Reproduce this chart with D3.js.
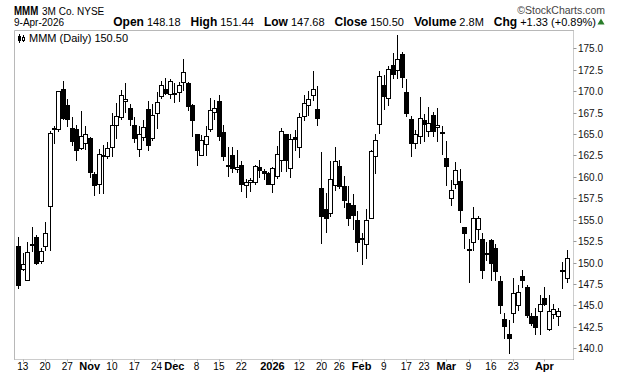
<!DOCTYPE html>
<html><head><meta charset="utf-8">
<script src="https://cdn.jsdelivr.net/npm/d3@7/dist/d3.min.js"></script>
<style>
html,body{margin:0;padding:0;background:#fff;}
svg{display:block;font-family:"Liberation Sans",Arial,sans-serif;}
</style></head>
<body>
<svg id="c" width="620" height="376"></svg>
<script>
const dates = [
"2025-10-10",
"2025-10-13","2025-10-14","2025-10-15","2025-10-16","2025-10-17",
"2025-10-20","2025-10-21","2025-10-22","2025-10-23","2025-10-24",
"2025-10-27","2025-10-28","2025-10-29","2025-10-30","2025-10-31",
"2025-11-03","2025-11-04","2025-11-05","2025-11-06","2025-11-07",
"2025-11-10","2025-11-11","2025-11-12","2025-11-13","2025-11-14",
"2025-11-17","2025-11-18","2025-11-19","2025-11-20","2025-11-21",
"2025-11-24","2025-11-25","2025-11-26","2025-11-28",
"2025-12-01","2025-12-02","2025-12-03","2025-12-04","2025-12-05",
"2025-12-08","2025-12-09","2025-12-10","2025-12-11","2025-12-12",
"2025-12-15","2025-12-16","2025-12-17","2025-12-18","2025-12-19",
"2025-12-22","2025-12-23","2025-12-24","2025-12-26",
"2025-12-29","2025-12-30","2025-12-31","2026-01-02",
"2026-01-05","2026-01-06","2026-01-07","2026-01-08","2026-01-09",
"2026-01-12","2026-01-13","2026-01-14","2026-01-15","2026-01-16",
"2026-01-20","2026-01-21","2026-01-22","2026-01-23",
"2026-01-26","2026-01-27","2026-01-28","2026-01-29","2026-01-30",
"2026-02-02","2026-02-03","2026-02-04","2026-02-05","2026-02-06",
"2026-02-09","2026-02-10","2026-02-11","2026-02-12","2026-02-13",
"2026-02-17","2026-02-18","2026-02-19","2026-02-20",
"2026-02-23","2026-02-24","2026-02-25","2026-02-26","2026-02-27",
"2026-03-02","2026-03-03","2026-03-04","2026-03-05","2026-03-06",
"2026-03-09","2026-03-10","2026-03-11","2026-03-12","2026-03-13",
"2026-03-16","2026-03-17","2026-03-18","2026-03-19","2026-03-20",
"2026-03-23","2026-03-24","2026-03-25","2026-03-26","2026-03-27",
"2026-03-30","2026-03-31","2026-04-01","2026-04-02",
"2026-04-06","2026-04-07","2026-04-08","2026-04-09"
];
const opens = [
151.9,149.3,148.0,152.2,153.0,150.2,151.9,156.6,165.6,165.6,
170.3,168.4,165.7,165.6,163.4,163.9,164.5,160.3,159.2,162.6,
162.4,163.5,166.1,167.0,168.8,168.0,166.1,163.2,164.7,167.9,
164.5,167.4,169.4,170.2,169.7,169.8,169.9,171.1,171.0,168.4,
165.0,162.6,163.8,165.6,167.6,168.8,165.2,161.35,162.5,160.9,
161.4,159.1,159.4,159.4,161.1,160.7,160.5,159.2,160.1,162.0,
165.0,161.0,164.6,163.5,167.1,168.4,169.6,167.9,158.7,156.3,
155.75,159.1,161.3,158.9,157.0,156.7,155.0,152.85,152.2,155.2,
162.4,166.2,170.7,169.2,173.1,172.5,174.3,169.9,166.8,164.0,
164.8,166.6,165.4,167.2,165.8,165.25,162.2,157.5,159.2,159.5,
154.1,151.55,152.4,153.9,152.8,151.15,152.6,151.7,147.9,143.4,
141.7,144.1,145.0,148.4,147.2,143.8,143.8,144.4,145.9,142.3,
144.0,143.8,149.15,148.18
];
const highs = [
153.0,151.1,152.4,154.2,153.2,151.7,154.7,165.3,165.9,170.0,
171.2,169.1,167.0,166.1,167.7,165.9,164.7,160.6,163.3,163.7,
164.1,167.5,168.6,170.1,171.0,168.5,167.0,165.9,166.6,168.9,
168.5,169.9,171.2,171.5,171.4,171.0,171.1,173.7,171.1,168.5,
165.0,164.9,165.9,169.2,169.0,169.6,166.1,163.5,163.5,163.1,
161.9,159.8,159.9,161.4,162.0,160.9,160.6,161.2,163.6,165.7,
165.0,165.0,165.5,167.4,169.6,170.0,172.3,170.6,162.9,158.1,
161.8,163.5,162.0,160.1,158.9,158.0,156.0,153.4,156.3,163.1,
165.0,172.3,171.9,172.9,174.4,176.6,174.6,171.4,167.1,165.5,
169.3,167.3,168.1,167.6,168.0,165.9,164.2,159.6,161.7,160.9,
154.2,152.8,156.5,155.4,153.4,152.4,152.8,152.2,148.4,144.1,
143.3,148.2,147.4,149.1,147.4,144.1,144.7,146.2,147.2,146.2,
145.2,144.7,150.1,151.44
];
const lows = [
147.0,149.1,148.0,151.3,149.8,149.9,151.5,151.5,163.9,165.3,
166.7,165.9,163.7,162.0,163.2,163.3,160.0,157.9,158.1,158.1,
162.2,162.4,164.5,166.8,167.6,166.1,164.1,162.4,164.3,163.1,
164.3,165.7,169.2,169.7,169.2,168.7,168.8,170.1,167.8,164.8,
161.4,162.5,162.6,165.3,166.8,164.3,162.0,160.1,160.6,160.6,
158.3,157.6,158.3,159.2,160.0,159.8,159.2,158.2,159.9,160.7,
160.7,160.0,163.1,162.3,166.6,167.2,169.0,166.1,152.3,153.6,
155.4,158.5,158.7,156.5,154.4,153.9,151.3,149.8,150.5,155.2,
160.4,165.1,167.9,168.4,171.5,171.5,170.5,167.1,162.4,163.4,
164.0,164.2,164.8,164.8,164.2,162.7,159.1,156.7,158.7,154.7,
151.7,147.7,151.5,152.8,148.2,150.3,148.0,148.0,144.1,141.2,
139.4,143.1,144.5,147.2,143.7,142.7,141.7,141.7,145.1,142.1,
143.5,142.7,147.0,147.68
];
const closes = [
147.4,149.8,151.2,152.1,150.0,151.3,153.4,165.1,165.7,170.0,
166.9,166.8,164.2,163.1,164.8,165.0,160.6,159.1,162.7,162.4,
163.4,166.1,167.1,169.6,169.1,166.7,164.5,165.0,165.8,163.7,
167.2,168.7,170.7,169.8,171.2,169.7,170.7,172.2,168.3,166.6,
163.1,164.3,164.8,167.8,168.0,164.8,162.4,161.25,161.0,161.2,
159.2,159.4,159.6,161.3,160.8,160.4,159.2,161.0,162.7,165.3,
162.0,164.4,164.4,167.0,168.6,169.1,170.3,166.9,155.4,155.2,
159.8,161.8,158.9,157.3,155.2,155.6,152.4,152.7,155.0,163.0,
164.3,171.8,169.4,172.6,172.0,173.7,171.7,167.5,164.0,165.0,
166.9,166.2,166.3,165.4,166.0,165.15,161.3,158.5,160.8,156.1,
153.4,151.45,155.2,155.2,149.1,151.05,149.9,149.0,145.0,142.6,
141.2,146.5,146.6,148.0,143.9,143.0,142.5,145.2,145.2,144.4,
144.6,144.4,149.17,150.50
];
const yTickValues = [140,142.5,145,147.5,150,152.5,155,157.5,160,162.5,165,167.5,170,172.5,175];
const xTickDates = ["2025-10-13","2025-10-20","2025-10-27","2025-11-03","2025-11-10","2025-11-17","2025-11-24",
"2025-12-01","2025-12-08","2025-12-15","2025-12-22","2026-01-02","2026-01-12","2026-01-20","2026-01-26",
"2026-02-02","2026-02-09","2026-02-17","2026-02-23","2026-03-02","2026-03-09","2026-03-16","2026-03-23","2026-04-01"];
const xTickLabels = ["13","20","27","Nov","10","17","24","Dec","8","15","22","2026","12","20","26","Feb","9","17","23","Mar","9","16","23","Apr"];
const symbol = "MMM", company = "3M Co.", exchange = "NYSE", asOf = "9-Apr-2026";
const summary = [["Open","148.18"],["High","151.44"],["Low","147.68"],["Close","150.50"],["Volume","2.8M"],["Chg","+1.33 (+0.89%)"]];

const svg = d3.select("#c");
const L = 14.5, R = 573.5, T = 30.5, B = 359.5;

const x = d3.scalePoint().domain(dates).range([18.3, 566.7]);
const y = d3.scaleLinear().domain([140, 175]).range([348.3, 48.3]);

// header
svg.append("text").attr("transform", "translate(14,15) scale(0.72,1)")
  .attr("font-weight", "bold").attr("font-size", 13.5).text(symbol);
svg.append("text").attr("x", 42).attr("y", 15).attr("font-size", 10).text(company + " " + exchange);
svg.append("text").attr("x", 605).attr("y", 14).attr("text-anchor", "end").attr("font-size", 10.5).attr("fill", "#444").text("\u00A9StockCharts.com");
svg.append("text").attr("x", 14).attr("y", 26).attr("font-size", 10).text(asOf);
const sumText = svg.append("text").attr("x", 596).attr("y", 26).attr("text-anchor", "end");
summary.forEach((kv, i) => {
  sumText.append("tspan").attr("font-weight", "bold").attr("font-size", 12).attr("dx", i ? 10 : 0).text(kv[0]);
  sumText.append("tspan").attr("font-size", 11).attr("dx", 3).text(kv[1]);
});
svg.append("path").attr("d", d3.symbol(d3.symbolTriangle, 22)()).attr("transform", "translate(601,22.5)").attr("fill", "#2a7d2a");

// frame
svg.append("line").attr("x1", L).attr("x2", R).attr("y1", T).attr("y2", T).attr("stroke", "#b8b8b8");
svg.append("line").attr("x1", L).attr("x2", L).attr("y1", T).attr("y2", B).attr("stroke", "#b8b8b8");
svg.append("line").attr("x1", R).attr("x2", R).attr("y1", T).attr("y2", B).attr("stroke", "#999").attr("stroke-dasharray", "1,1");
svg.append("line").attr("x1", L).attr("x2", R).attr("y1", B).attr("y2", B).attr("stroke", "#999").attr("stroke-dasharray", "1,1");

// y axis
const yg = svg.append("g");
yTickValues.forEach(v => {
  const yy = Math.round(y(v)) + 0.5;
  yg.append("line").attr("x1", R).attr("x2", R + 3).attr("y1", yy).attr("y2", yy).attr("stroke", "#999");
  yg.append("text").attr("x", R + 4.5).attr("y", yy + 3.5).attr("font-size", 10).attr("fill", "#111").text(d3.format(".1f")(v));
});

// x axis labels
xTickDates.forEach((d, i) => {
  const lab = xTickLabels[i];
  const bold = isNaN(+lab) || lab.length === 4;
  const xx = x(d);
  svg.append("line").attr("x1", Math.round(xx) + 0.5).attr("x2", Math.round(xx) + 0.5).attr("y1", B).attr("y2", B + 2).attr("stroke", "#aaa");
  svg.append("text").attr("x", xx).attr("y", 370).attr("text-anchor", "middle")
    .attr("font-size", bold ? 11 : 10).attr("font-weight", bold ? "bold" : "normal").text(lab);
});

// legend
const lg = svg.append("g").attr("transform", "translate(18,34)");
lg.append("line").attr("x1", 1.5).attr("x2", 1.5).attr("y1", 0).attr("y2", 9).attr("stroke", "#000");
lg.append("rect").attr("x", 0.5).attr("y", 2.5).attr("width", 2).attr("height", 4).attr("fill", "#000").attr("stroke", "#000");
lg.append("line").attr("x1", 5.5).attr("x2", 5.5).attr("y1", 1).attr("y2", 8).attr("stroke", "#000");
lg.append("rect").attr("x", 4.5).attr("y", 3.5).attr("width", 2).attr("height", 3).attr("fill", "#fff").attr("stroke", "#000");
svg.append("text").attr("x", 29).attr("y", 42).attr("font-size", 11).text(symbol + " (Daily) " + d3.format(".2f")(closes[closes.length - 1]));

// candles
const data = dates.map((d, i) => ({d, o: opens[i], h: highs[i], l: lows[i], c: closes[i]}));
const cg = svg.append("g").attr("shape-rendering", "crispEdges");
data.forEach(p => {
  const cx = Math.round(x(p.d));
  cg.append("line").attr("x1", cx + 0.5).attr("x2", cx + 0.5)
    .attr("y1", Math.round(y(p.h))).attr("y2", Math.round(y(p.l)) + 1).attr("stroke", "#000");
  const top = Math.round(y(Math.max(p.o, p.c)));
  const bot = Math.round(y(Math.min(p.o, p.c)));
  const up = p.c > p.o;
  cg.append("rect").attr("x", cx - 1.5).attr("y", top + 0.5)
    .attr("width", 4).attr("height", Math.max(bot - top, 1))
    .attr("fill", up ? "#fff" : "#000").attr("stroke", "#000").attr("stroke-width", 1);
});
</script>
</body></html>
